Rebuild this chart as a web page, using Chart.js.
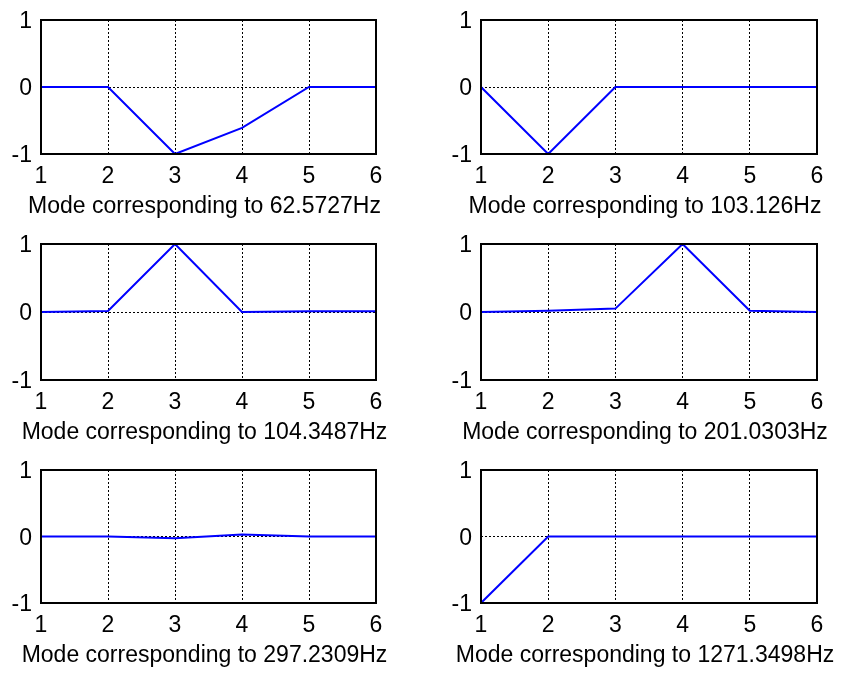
<!DOCTYPE html>
<html>
<head>
<meta charset="utf-8">
<title>Mode shapes</title>
<script src="https://cdn.jsdelivr.net/npm/chart.js@4.4.1/dist/chart.umd.min.js"></script>
<style>
    html, body {
        margin: 0;
        padding: 0;
        background: #ffffff;
    }
    #figure {
        position: relative;
        width: 842px;
        height: 677px;
        overflow: hidden;
        background: #ffffff;
    }
    #figure canvas {
        position: absolute;
    }
</style>
</head>
<body>
<div id="figure"></div>

<script>
/* ==========================================================
   Mode shapes of the 6-DOF system, one subplot per mode
========================================================== */

const nodes = [1, 2, 3, 4, 5, 6];
const xTicks = [1, 2, 3, 4, 5, 6];
const yTicks = [-1, 0, 1];

const modeFreqs = ["62.5727", "103.126", "104.3487", "201.0303", "297.2309", "1271.3498"];

const mode1 = [0, 0, -1, -0.61, 0, 0];
const mode2 = [0, -1, 0, 0, 0, 0];
const mode3 = [0, 0.015, 1, 0, 0.01, 0.01];
const mode4 = [0, 0.02, 0.05, 1, 0.02, 0];
const mode5 = [0, 0, -0.025, 0.03, 0, 0];
const mode6 = [-1, 0, 0, 0, 0, 0];

const modes = [mode1, mode2, mode3, mode4, mode5, mode6];

/* plot-box frames in page pixels: [left, top, width, height] */
const frames = [
    [41, 20, 335, 134],
    [481, 20, 336, 134],
    [41, 244, 335, 136],
    [481, 244, 336, 136],
    [41, 470, 335, 133],
    [481, 470, 336, 133]
];

const AXIS_W = 41;      // room for y tick labels
const AXIS_H = 67;      // room for x tick labels + caption
const PAD_TOP = 26;     // must cover half a label + tick padding
const PAD_RIGHT = 20;

const FONT = { family: "'Liberation Sans', Arial, Helvetica, sans-serif", size: 23 };

/* black box round the plot area, like a boxed axes */
const boxPlugin = {
    id: "axesBox",
    afterDraw(chart) {
        const { ctx, chartArea: a } = chart;
        ctx.save();
        ctx.strokeStyle = "#000000";
        ctx.lineWidth = 2;
        ctx.setLineDash([]);
        ctx.strokeRect(a.left, a.top, a.right - a.left, a.bottom - a.top);
        ctx.restore();
    }
};

/* xlabel-style caption under the tick labels (scale titles get squeezed to the axis width) */
const captionPlugin = {
    id: "caption",
    afterDraw(chart, args, opts) {
        const { ctx, chartArea: a } = chart;
        ctx.save();
        ctx.font = `${FONT.size}px ${FONT.family}`;
        ctx.fillStyle = "#000000";
        ctx.textAlign = "center";
        ctx.textBaseline = "middle";
        ctx.fillText(opts.text, (a.left + a.right) / 2 + opts.dx, a.bottom + opts.dy);
        ctx.restore();
    }
};

function makeSubplot(i) {

    const [left, top, w, h] = frames[i];
    const fig = document.getElementById("figure");

    const canvas = document.createElement("canvas");
    const cw = AXIS_W + w + PAD_RIGHT;
    const ch = PAD_TOP + h + AXIS_H;
    canvas.width = cw;
    canvas.height = ch;
    canvas.style.width = cw + "px";
    canvas.style.height = ch + "px";
    canvas.style.left = (left - AXIS_W) + "px";
    canvas.style.top = (top - PAD_TOP) + "px";
    fig.appendChild(canvas);

    const points = nodes.map((n, k) => ({ x: n, y: modes[i][k] }));

    return new Chart(canvas.getContext("2d"), {
        type: "line",
        data: {
            datasets: [{
                data: points,
                borderColor: "#0000ff",
                borderWidth: 2,
                pointRadius: 0,
                tension: 0,
                fill: false
            }]
        },
        options: {
            responsive: false,
            animation: false,
            events: [],
            layout: {
                padding: { top: PAD_TOP, right: PAD_RIGHT, left: 0, bottom: 0 }
            },
            plugins: {
                legend: { display: false },
                tooltip: { enabled: false },
                caption: {
                    text: "Mode corresponding to " + modeFreqs[i] + "Hz",
                    dx: -4,
                    dy: 53
                }
            },
            scales: {
                x: {
                    type: "linear",
                    min: 1,
                    max: 6,
                    afterBuildTicks: s => { s.ticks = xTicks.map(v => ({ value: v })); },
                    afterFit: s => { s.height = AXIS_H; },
                    grid: {
                        color: "#000000",
                        lineWidth: 1,
                        drawTicks: false
                    },
                    border: { display: false, dash: [2, 2] },
                    ticks: {
                        color: "#000000",
                        font: FONT,
                        padding: 9,
                        maxRotation: 0
                    }
                },
                y: {
                    type: "linear",
                    min: -1,
                    max: 1,
                    afterBuildTicks: s => { s.ticks = yTicks.map(v => ({ value: v })); },
                    afterFit: s => { s.width = AXIS_W; },
                    grid: {
                        color: "#000000",
                        lineWidth: 1,
                        drawTicks: false
                    },
                    border: { display: false, dash: [2, 2] },
                    ticks: {
                        color: "#000000",
                        font: FONT,
                        padding: 9,
                        labelOffset: 2
                    }
                }
            }
        },
        plugins: [boxPlugin, captionPlugin]
    });
}

modes.forEach((m, i) => makeSubplot(i));
</script>
</body>
</html>
